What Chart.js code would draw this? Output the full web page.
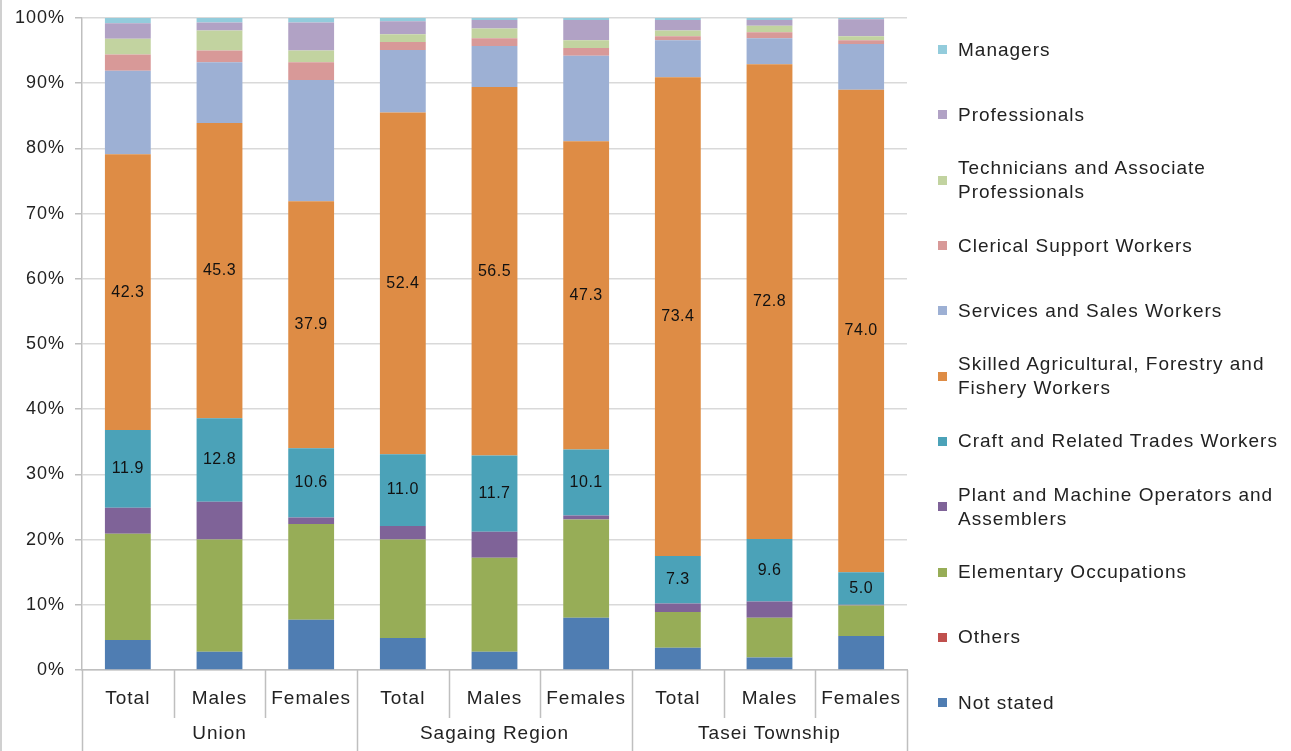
<!DOCTYPE html>
<html>
<head>
<meta charset="utf-8">
<script src="https://cdn.jsdelivr.net/npm/chart.js@4"></script>
<style>
  html, body { margin: 0; padding: 0; background: #fff; }
  #wrap { position: relative; width: 1291px; height: 751px; border-left: 2px solid #d0d0d0; box-sizing: border-box; }
  #legend { position: absolute; left: 936px; top: 17px; width: 350px; font-family: "Liberation Sans", Arial, sans-serif; font-size: 19px; letter-spacing: 1px; color: #222; }
  .item { height: 65.3px; display: flex; align-items: center; }
  .box { width: 9px; height: 9px; flex: none; margin-right: 11px; }
  .txt { line-height: 24px; }
</style>
</head>
<body>
<div id="wrap">
  <canvas id="occChart" width="1289" height="751"></canvas>
  <div id="legend"></div>
</div>
<script>
// categories
const categories = ['Total', 'Males', 'Females', 'Total', 'Males', 'Females', 'Total', 'Males', 'Females'];
const groups = ['Union', 'Sagaing Region', 'Tasei Township'];
const yTicks = [0, 10, 20, 30, 40, 50, 60, 70, 80, 90, 100];

// series values (%), bottom of stack first
const notStated     = [4.6, 2.8, 7.7, 4.9, 2.8, 8.0, 3.4, 1.9, 5.2];
const others        = [0, 0, 0, 0, 0, 0, 0, 0, 0];
const elementary    = [16.3, 17.2, 14.7, 15.1, 14.4, 15.1, 5.5, 6.1, 4.7];
const plantOps      = [4.0, 5.8, 1.0, 2.1, 4.0, 0.6, 1.3, 2.5, 0.1];
const craft         = [11.9, 12.8, 10.6, 11.0, 11.7, 10.1, 7.3, 9.6, 5.0];
const skilledAgri   = [42.3, 45.3, 37.9, 52.4, 56.5, 47.3, 73.4, 72.8, 74.0];
const services      = [12.8, 9.3, 18.6, 9.6, 6.3, 13.1, 5.7, 4.0, 7.0];
const clerical      = [2.5, 1.8, 2.7, 1.2, 1.2, 1.2, 0.6, 0.9, 0.6];
const technicians   = [2.4, 3.1, 1.8, 1.2, 1.5, 1.2, 0.9, 1.0, 0.6];
const professionals = [2.4, 1.2, 4.3, 2.0, 1.3, 3.1, 1.6, 0.9, 2.6];
const managers      = [0.8, 0.7, 0.7, 0.5, 0.3, 0.3, 0.3, 0.3, 0.2];

const FONT = '"Liberation Sans", Arial, sans-serif';

const series = [
	{ label: 'Not stated', data: notStated, color: '#4f7db2' },
	{ label: 'Others', data: others, color: '#c0504d' },
	{ label: 'Elementary Occupations', data: elementary, color: '#97ad57' },
	{ label: 'Plant and Machine Operators and Assemblers', data: plantOps, color: '#7f6398' },
	{ label: 'Craft and Related Trades Workers', data: craft, color: '#4ba2b8', showValues: true },
	{ label: 'Skilled Agricultural, Forestry and Fishery Workers', data: skilledAgri, color: '#de8c45', showValues: true },
	{ label: 'Services and Sales Workers', data: services, color: '#9db0d4' },
	{ label: 'Clerical Support Workers', data: clerical, color: '#d89998' },
	{ label: 'Technicians and Associate Professionals', data: technicians, color: '#c2d3a0' },
	{ label: 'Professionals', data: professionals, color: '#b1a2c5' },
	{ label: 'Managers', data: managers, color: '#93ccdc' }
];

// wider text like the excel export
const spacingPlugin = {
	id: 'spacing',
	beforeUpdate(chart) { chart.ctx.letterSpacing = '1px'; },
	beforeDraw(chart) { chart.ctx.letterSpacing = '1px'; }
};

// data labels + two-level category axis
const extrasPlugin = {
	id: 'extras',
	afterDatasetsDraw(chart) {
		const ctx = chart.ctx;
		ctx.save();
		ctx.letterSpacing = '0.5px';
		ctx.font = '16px ' + FONT;
		ctx.fillStyle = '#111';
		ctx.textAlign = 'center';
		ctx.textBaseline = 'middle';
		chart.data.datasets.forEach((ds, di) => {
			if (!ds.showValues) return;
			chart.getDatasetMeta(di).data.forEach((bar, i) => {
				ctx.fillText(ds.data[i].toFixed(1), bar.x, (bar.y + bar.base) / 2);
			});
		});
		ctx.restore();
	},
	afterDraw(chart) {
		const ctx = chart.ctx;
		const x = chart.scales.x;
		const bottom = chart.chartArea.bottom;
		const step = x.getPixelForValue(1) - x.getPixelForValue(0);
		ctx.save();
		ctx.strokeStyle = '#bfbfbf';
		ctx.lineWidth = 1.5;
		for (let i = 0; i <= categories.length; i++) {
			const px = Math.round(x.getPixelForValue(0) - step / 2 + i * step) + 0.5;
			ctx.beginPath();
			ctx.moveTo(px, bottom);
			ctx.lineTo(px, i % 3 === 0 ? 751 : 718);
			ctx.stroke();
		}
		ctx.letterSpacing = '1px';
		ctx.font = '19px ' + FONT;
		ctx.fillStyle = '#222';
		ctx.textAlign = 'center';
		ctx.textBaseline = 'middle';
		groups.forEach((g, gi) => {
			const cx = x.getPixelForValue(gi * 3 + 1);
			ctx.fillText(g, cx, 734);
		});
		ctx.restore();
	}
};

const chart = new Chart(document.getElementById('occChart'), {
	type: 'bar',
	data: {
		labels: categories,
		datasets: series.map(s => ({
			label: s.label,
			data: s.data,
			backgroundColor: s.color,
			borderWidth: 0,
			showValues: !!s.showValues,
			barPercentage: 0.5,
			categoryPercentage: 1
		}))
	},
	options: {
		responsive: false,
		animation: false,
		layout: { padding: { top: 18, right: 384, bottom: 0, left: 0 } },
		plugins: { legend: { display: false }, tooltip: { enabled: false } },
		scales: {
			x: {
				stacked: true,
				grid: { display: false },
				border: { color: '#bfbfbf', width: 1.5 },
				ticks: { font: { family: FONT, size: 19 }, color: '#222', padding: 9, maxRotation: 0 },
				afterFit: s => { s.height = 81; }
			},
			y: {
				stacked: true,
				min: 0,
				max: 100,
				afterBuildTicks: s => { s.ticks = yTicks.map(v => ({ value: v })); },
				grid: { color: '#d9d9d9', lineWidth: 1.5, drawTicks: true, tickLength: 7, tickColor: '#bfbfbf' },
				border: { color: '#bfbfbf', width: 1.5 },
				ticks: { font: { family: FONT, size: 18 }, color: '#222', padding: 10, callback: v => v + '%' },
				afterFit: s => { s.width = 80; s.paddingTop = 0; s.paddingBottom = 0; }
			}
		}
	},
	plugins: [spacingPlugin, extrasPlugin]
});

// html legend, top item = last series
const legend = document.getElementById('legend');
series.slice().reverse().forEach(s => {
	const item = document.createElement('div');
	item.className = 'item';
	item.innerHTML = '<span class="box" style="background:' + s.color + '"></span><span class="txt">' + s.label + '</span>';
	legend.appendChild(item);
});
</script>
</body>
</html>
